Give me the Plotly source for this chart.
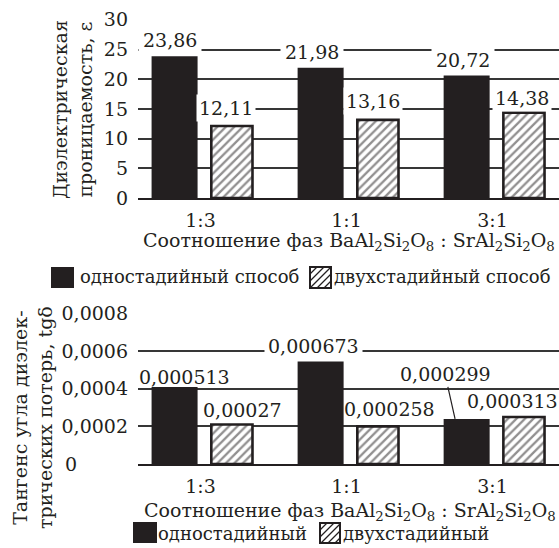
import plotly.graph_objects as go

# ---------------- data ----------------
categories = ["1:3", "1:1", "3:1"]

# dielectric permittivity (top chart)
eps_one = [23.86, 21.98, 20.72]
eps_two = [12.11, 13.16, 14.38]
eps_one_labels = ["23,86", "21,98", "20,72"]
eps_two_labels = ["12,11", "13,16", "14,38"]

# loss tangent (bottom chart) - bar heights as drawn in the picture
tan_one = [0.00041, 0.000545, 0.00024]
tan_two = [0.00021, 0.00020, 0.00025]
tan_one_labels = ["0,000513", "0,000673", "0,000299"]
tan_two_labels = ["0,00027", "0,000258", "0,000313"]

eps_ticks = [0, 5, 10, 15, 20, 25, 30]
tan_ticks = [0.0002, 0.0004, 0.0006, 0.0008]

legend_top = ["одностадийный способ", "двухстадийный способ"]
legend_bottom = ["одностадийный", "двухстадийный"]
x_title = "Соотношение фаз BaAl<sub>2</sub>Si<sub>2</sub>O<sub>8</sub> : SrAl<sub>2</sub>Si<sub>2</sub>O<sub>8</sub>"
y_title_top = "Диэлектрическая<br>проницаемость, ε"
y_title_bottom = "Тангенс угла диэлек-<br>трических потерь, tgδ"

# ---------------- style ----------------
W, H = 559, 548
FONT = "DejaVu Serif"
INK = "#231f20"
GRID = "#363636"
FS = 19


def px(x):
    return x / W


def py(y):
    return 1 - y / H


black_marker = dict(color=INK, line=dict(width=0))
hatch_marker = dict(
    color="white",
    line=dict(width=2.6, color=INK),
    pattern=dict(shape="/", size=6, solidity=0.38, fgcolor=INK, bgcolor="white"),
)

fig = go.Figure()
for xa, ya, one, two in [("x", "y", eps_one, eps_two), ("x2", "y2", tan_one, tan_two)]:
    fig.add_trace(go.Bar(x=categories, y=one, xaxis=xa, yaxis=ya, marker=black_marker,
                         offset=-0.335, width=0.315, showlegend=False, hoverinfo="skip"))
    fig.add_trace(go.Bar(x=categories, y=two, xaxis=xa, yaxis=ya, marker=hatch_marker,
                         offset=0.074, width=0.282, showlegend=False, hoverinfo="skip"))

x_range = [-0.428, 2.455]
axis_common = dict(showgrid=False, zeroline=False, showline=True, linecolor=INK, linewidth=2,
                   ticks="", tickfont=dict(family=FONT, size=FS, color=INK), range=x_range,
                   type="category", ticklabelstandoff=4, automargin=False)
ycommon = dict(showgrid=True, gridcolor=GRID, gridwidth=1.5, zeroline=False, showline=False,
               ticks="", tickfont=dict(family=FONT, size=FS, color=INK), ticklabelstandoff=9,
               automargin=False)

fig.update_layout(
    width=W, height=H, margin=dict(l=0, r=0, t=0, b=0, autoexpand=False),
    paper_bgcolor="white", plot_bgcolor="white",
    separators=", ",
    barmode="overlay",
    xaxis=dict(domain=[px(138), 1], anchor="y", **axis_common),
    yaxis=dict(domain=[py(198), py(19.5)], anchor="x", range=[0, 30.05], tickvals=eps_ticks, **ycommon),
    xaxis2=dict(domain=[px(138), 1], anchor="y2", **axis_common),
    yaxis2=dict(domain=[py(464), py(313.5)], anchor="x2", range=[0, 0.000801], tickvals=tan_ticks,
                tickformat=".4f", **ycommon),
)

ann = []
lab_font = dict(family=FONT, size=FS, color=INK)

# top chart value labels
top_one_off = [(-30.5, 16, 4), (-35, 15, 4), (-30, 15, 4)]
top_two_off = [(25, 18, 2), (26, 18.5, 2), (29, 14.5, 2)]
for i, c in enumerate(categories):
    for val, txt, off in [(eps_one[i], eps_one_labels[i], top_one_off[i]),
                          (eps_two[i], eps_two_labels[i], top_two_off[i])]:
        ann.append(dict(x=c, y=val, xref="x", yref="y", text=txt, showarrow=False,
                        xshift=off[0], yshift=off[1], yanchor="middle", xanchor="center",
                        font=lab_font, bgcolor="white", borderpad=off[2]))

# bottom chart value labels
bot_one_off = [(-16.5, 10, False), (-33.5, 16, True), None]
bot_two_off = [(41.5, 15, False), (43, 17, False), (19.5, 16.5, False)]
for i, c in enumerate(categories):
    o = bot_one_off[i]
    if o is None:
        ann.append(dict(x=c, y=tan_one[i], xref="x2", yref="y2", text=tan_one_labels[i],
                        showarrow=True, arrowhead=0, arrowwidth=1.2, arrowcolor=INK,
                        xshift=-37.5, ax=-10, ay=-44.5, font=lab_font, bgcolor="white",
                        borderpad=1, standoff=0))
    else:
        ann.append(dict(x=c, y=tan_one[i], xref="x2", yref="y2", text=tan_one_labels[i],
                        showarrow=False, xshift=o[0], yshift=o[1], yanchor="middle",
                        font=lab_font, bgcolor="white" if o[2] else "rgba(0,0,0,0)", borderpad=3))
    o = bot_two_off[i]
    ann.append(dict(x=c, y=tan_two[i], xref="x2", yref="y2", text=tan_two_labels[i],
                    showarrow=False, xshift=o[0], yshift=o[1], yanchor="middle",
                    font=lab_font, bgcolor="rgba(0,0,0,0)"))

# "0" tick of bottom chart (left aligned in the original)
ann.append(dict(x=px(63), y=0, xref="paper", yref="y2", text="0", showarrow=False,
                xanchor="left", yanchor="middle", font=dict(family=FONT, size=FS, color=INK)))

# axis titles
title_font = dict(family=FONT, size=FS, color=INK)
ann.append(dict(x=px(349), y=py(241), xref="paper", yref="paper", text=x_title, showarrow=False,
                xanchor="center", yanchor="middle", font=title_font))
ann.append(dict(x=px(350), y=py(511), xref="paper", yref="paper", text=x_title, showarrow=False,
                xanchor="center", yanchor="middle", font=title_font))
ann.append(dict(x=px(72), y=py(110), xref="paper", yref="paper", text=y_title_top, showarrow=False,
                textangle=-90, xanchor="center", yanchor="middle", font=dict(family=FONT, size=FS, color=INK)))
ann.append(dict(x=px(32), y=py(418), xref="paper", yref="paper", text=y_title_bottom, showarrow=False,
                textangle=-90, xanchor="center", yanchor="middle", font=dict(family=FONT, size=FS, color=INK)))

# legends (drawn manually)
shapes = []


def hatched_box(x0, y0, x1, y1, step=7):
    out = [dict(type="rect", xref="paper", yref="paper", x0=px(x0), x1=px(x1), y0=py(y1), y1=py(y0),
                fillcolor="white", line=dict(color=INK, width=2))]
    c = x0 + y0 + step
    while c < x1 + y1 - 2:
        xa = max(x0, c - y1)
        xb = min(x1, c - y0)
        out.append(dict(type="line", xref="paper", yref="paper", x0=px(xa), y0=py(c - xa),
                        x1=px(xb), y1=py(c - xb), line=dict(color=INK, width=1.2)))
        c += step
    return out


leg_font = dict(family=FONT, size=18, color=INK)
# top legend
shapes.append(dict(type="rect", xref="paper", yref="paper", x0=px(51), x1=px(74), y0=py(288), y1=py(267),
                   fillcolor=INK, line=dict(width=0)))
shapes += hatched_box(310, 267, 331, 288)
ann.append(dict(x=px(78), y=py(276), xref="paper", yref="paper", text=legend_top[0], showarrow=False,
                xanchor="left", yanchor="middle", font=leg_font))
ann.append(dict(x=px(332), y=py(276), xref="paper", yref="paper", text=legend_top[1], showarrow=False,
                xanchor="left", yanchor="middle", font=leg_font))
# bottom legend
shapes.append(dict(type="rect", xref="paper", yref="paper", x0=px(133), x1=px(157), y0=py(543), y1=py(522),
                   fillcolor=INK, line=dict(width=0)))
shapes += hatched_box(320, 523, 340, 543)
ann.append(dict(x=px(156), y=py(533), xref="paper", yref="paper", text=legend_bottom[0], showarrow=False,
                xanchor="left", yanchor="middle", font=leg_font))
ann.append(dict(x=px(341), y=py(533), xref="paper", yref="paper", text=legend_bottom[1], showarrow=False,
                xanchor="left", yanchor="middle", font=leg_font))

fig.update_layout(annotations=ann, shapes=shapes)
fig.write_html("out.html", config={"displayModeBar": False},
               post_script="document.body.style.margin='0px';document.body.style.padding='0px';")
